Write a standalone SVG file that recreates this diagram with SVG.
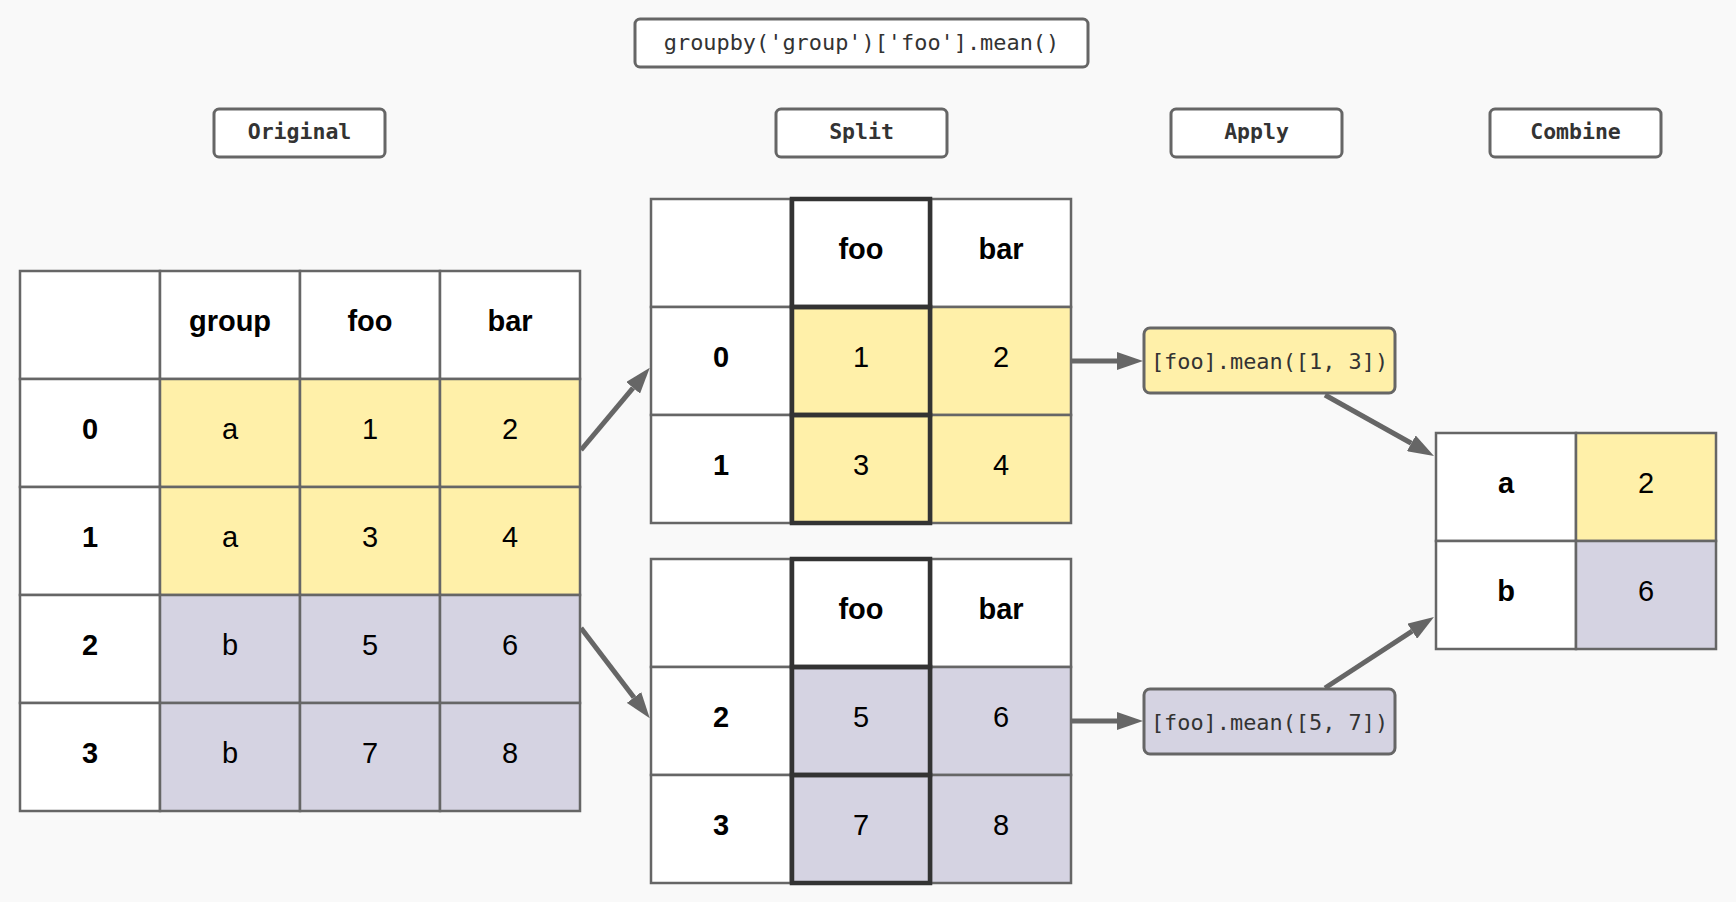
<svg xmlns="http://www.w3.org/2000/svg" width="1736" height="902" viewBox="0 0 1736 902">
<style>
.bg{fill:#f9f9f9}
.c{stroke:#666;stroke-width:2.5}
.w{fill:#fff}
.y{fill:#fff0a9}
.p{fill:#d5d3e2}
.thk{fill:none;stroke:#333;stroke-width:4.5}
.lbl{fill:#fff;stroke:#666;stroke-width:3}
.h{font-family:"Liberation Sans",Arial,sans-serif;font-weight:bold;font-size:29px;fill:#000;text-anchor:middle}
.v{font-family:"Liberation Sans",Arial,sans-serif;font-size:29px;fill:#000;text-anchor:middle}
.m{font-family:"DejaVu Sans Mono","Liberation Mono",monospace;font-size:21.9px;fill:#333;text-anchor:middle}
.mb{font-family:"DejaVu Sans Mono","Liberation Mono",monospace;font-size:21.5px;font-weight:bold;fill:#333;text-anchor:middle}
.ar{stroke:#666;stroke-width:5;fill:none;marker-end:url(#ah)}
</style>
<defs>
<marker id="ah" markerWidth="26" markerHeight="18" refX="0" refY="9" orient="auto" markerUnits="userSpaceOnUse"><path d="M0,0 L26,9 L0,18 Z" fill="#666"/></marker>
</defs>
<rect class="bg" x="0" y="0" width="1736" height="902"/>

<g id="title">
<rect class="lbl" x="635" y="19" width="453" height="48" rx="5"/>
<text class="m" x="861.5" y="50">groupby('group')['foo'].mean()</text>
</g>
<g id="label-original">
<rect class="lbl" x="214" y="109" width="171" height="48" rx="5"/>
<text class="mb" x="299.5" y="139">Original</text>
</g>
<g id="label-split">
<rect class="lbl" x="776" y="109" width="171" height="48" rx="5"/>
<text class="mb" x="861.5" y="139">Split</text>
</g>
<g id="label-apply">
<rect class="lbl" x="1171" y="109" width="171" height="48" rx="5"/>
<text class="mb" x="1256.5" y="139">Apply</text>
</g>
<g id="label-combine">
<rect class="lbl" x="1490" y="109" width="171" height="48" rx="5"/>
<text class="mb" x="1575.5" y="139">Combine</text>
</g>

<g id="original-table">
<rect class="c w" x="20" y="271" width="140" height="108"/>
<rect class="c w" x="160" y="271" width="140" height="108"/>
<rect class="c w" x="300" y="271" width="140" height="108"/>
<rect class="c w" x="440" y="271" width="140" height="108"/>
<rect class="c w" x="20" y="379" width="140" height="108"/>
<rect class="c y" x="160" y="379" width="140" height="108"/>
<rect class="c y" x="300" y="379" width="140" height="108"/>
<rect class="c y" x="440" y="379" width="140" height="108"/>
<rect class="c w" x="20" y="487" width="140" height="108"/>
<rect class="c y" x="160" y="487" width="140" height="108"/>
<rect class="c y" x="300" y="487" width="140" height="108"/>
<rect class="c y" x="440" y="487" width="140" height="108"/>
<rect class="c w" x="20" y="595" width="140" height="108"/>
<rect class="c p" x="160" y="595" width="140" height="108"/>
<rect class="c p" x="300" y="595" width="140" height="108"/>
<rect class="c p" x="440" y="595" width="140" height="108"/>
<rect class="c w" x="20" y="703" width="140" height="108"/>
<rect class="c p" x="160" y="703" width="140" height="108"/>
<rect class="c p" x="300" y="703" width="140" height="108"/>
<rect class="c p" x="440" y="703" width="140" height="108"/>
<text class="h" x="230" y="331">group</text>
<text class="h" x="370" y="331">foo</text>
<text class="h" x="510" y="331">bar</text>
<text class="h" x="90" y="439">0</text>
<text class="v" x="230" y="439">a</text>
<text class="v" x="370" y="439">1</text>
<text class="v" x="510" y="439">2</text>
<text class="h" x="90" y="547">1</text>
<text class="v" x="230" y="547">a</text>
<text class="v" x="370" y="547">3</text>
<text class="v" x="510" y="547">4</text>
<text class="h" x="90" y="655">2</text>
<text class="v" x="230" y="655">b</text>
<text class="v" x="370" y="655">5</text>
<text class="v" x="510" y="655">6</text>
<text class="h" x="90" y="763">3</text>
<text class="v" x="230" y="763">b</text>
<text class="v" x="370" y="763">7</text>
<text class="v" x="510" y="763">8</text>
</g>

<g id="split-a-table">
<rect class="c w" x="651" y="199" width="140" height="108"/>
<rect class="c w" x="791" y="199" width="140" height="108"/>
<rect class="c w" x="931" y="199" width="140" height="108"/>
<rect class="c w" x="651" y="307" width="140" height="108"/>
<rect class="c y" x="791" y="307" width="140" height="108"/>
<rect class="c y" x="931" y="307" width="140" height="108"/>
<rect class="c w" x="651" y="415" width="140" height="108"/>
<rect class="c y" x="791" y="415" width="140" height="108"/>
<rect class="c y" x="931" y="415" width="140" height="108"/>
<rect class="thk" x="792" y="199" width="138" height="108"/>
<rect class="thk" x="792" y="307" width="138" height="108"/>
<rect class="thk" x="792" y="415" width="138" height="108"/>
<text class="h" x="861" y="259">foo</text>
<text class="h" x="1001" y="259">bar</text>
<text class="h" x="721" y="367">0</text>
<text class="v" x="861" y="367">1</text>
<text class="v" x="1001" y="367">2</text>
<text class="h" x="721" y="475">1</text>
<text class="v" x="861" y="475">3</text>
<text class="v" x="1001" y="475">4</text>
</g>

<g id="split-b-table">
<rect class="c w" x="651" y="559" width="140" height="108"/>
<rect class="c w" x="791" y="559" width="140" height="108"/>
<rect class="c w" x="931" y="559" width="140" height="108"/>
<rect class="c w" x="651" y="667" width="140" height="108"/>
<rect class="c p" x="791" y="667" width="140" height="108"/>
<rect class="c p" x="931" y="667" width="140" height="108"/>
<rect class="c w" x="651" y="775" width="140" height="108"/>
<rect class="c p" x="791" y="775" width="140" height="108"/>
<rect class="c p" x="931" y="775" width="140" height="108"/>
<rect class="thk" x="792" y="559" width="138" height="108"/>
<rect class="thk" x="792" y="667" width="138" height="108"/>
<rect class="thk" x="792" y="775" width="138" height="108"/>
<text class="h" x="861" y="619">foo</text>
<text class="h" x="1001" y="619">bar</text>
<text class="h" x="721" y="727">2</text>
<text class="v" x="861" y="727">5</text>
<text class="v" x="1001" y="727">6</text>
<text class="h" x="721" y="835">3</text>
<text class="v" x="861" y="835">7</text>
<text class="v" x="1001" y="835">8</text>
</g>

<g id="apply-a">
<rect class="c y" x="1144" y="328" width="251" height="65" rx="6" style="stroke-width:3"/>
<text class="m" x="1269.5" y="369">[foo].mean([1, 3])</text>
</g>
<g id="apply-b">
<rect class="c p" x="1144" y="689" width="251" height="65" rx="6" style="stroke-width:3"/>
<text class="m" x="1269.5" y="730">[foo].mean([5, 7])</text>
</g>

<g id="combine-table">
<rect class="c w" x="1436" y="433" width="140" height="108"/>
<rect class="c y" x="1576" y="433" width="140" height="108"/>
<rect class="c w" x="1436" y="541" width="140" height="108"/>
<rect class="c p" x="1576" y="541" width="140" height="108"/>
<text class="h" x="1506" y="493">a</text>
<text class="v" x="1646" y="493">2</text>
<text class="h" x="1506" y="601">b</text>
<text class="v" x="1646" y="601">6</text>
</g>

<g id="connectors">
<line class="ar" x1="581" y1="450" x2="633.1" y2="387.8"/>
<line class="ar" x1="581" y1="628" x2="634" y2="697.5"/>
<line class="ar" x1="1072" y1="361" x2="1117" y2="361"/>
<line class="ar" x1="1072" y1="721" x2="1117" y2="721"/>
<line class="ar" x1="1325" y1="395" x2="1411.3" y2="443.3"/>
<line class="ar" x1="1325" y1="688" x2="1412.2" y2="631.2"/>
</g>
</svg>
